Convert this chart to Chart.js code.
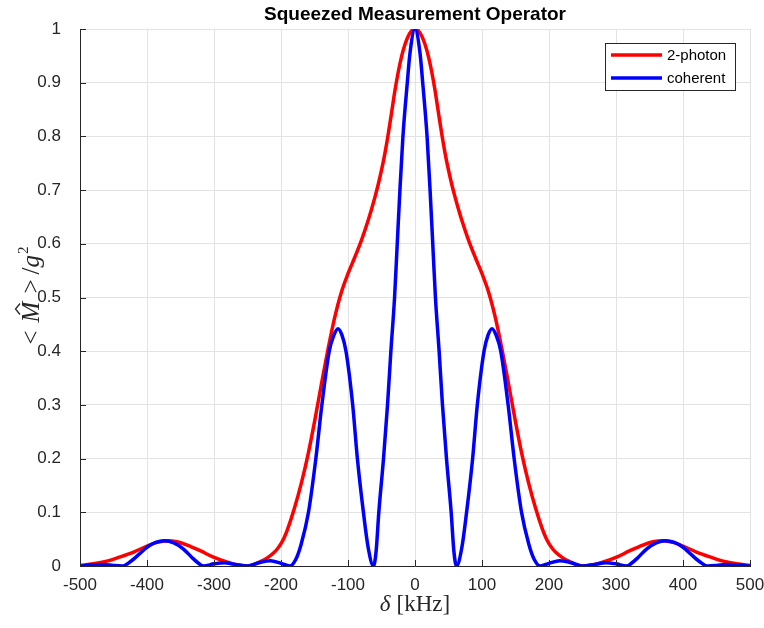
<!DOCTYPE html>
<html>
<head>
<meta charset="utf-8">
<title>Squeezed Measurement Operator</title>
<script src="https://cdn.jsdelivr.net/npm/chart.js@4.4.1/dist/chart.umd.min.js"></script>
<style>
  html, body { margin: 0; padding: 0; background: #fff; }
  #wrap { width: 764px; height: 628px; }
</style>
</head>
<body>
<div id="wrap"><canvas id="operatorChart" width="764" height="628"></canvas></div>
<script>
// Detuning axis ticks (kHz) and normalised operator ticks
const deltaTicks = [-500, -400, -300, -200, -100, 0, 100, 200, 300, 400, 500];
const deltaTickLabels = ["-500", "-400", "-300", "-200", "-100", "0", "100", "200", "300", "400", "500"];
const valueTicks = [0, 0.1, 0.2, 0.3, 0.4, 0.5, 0.6, 0.7, 0.8, 0.9, 1];
const valueTickLabels = ["0", "0.1", "0.2", "0.3", "0.4", "0.5", "0.6", "0.7", "0.8", "0.9", "1"];

// 2-photon response
const twoPhotonDelta = [
  -500, -480, -460, -440, -420, -400, -385, -370, -355, -340, -320, -300, -280, -265, -250,
  -240, -230, -220, -210, -205, -200, -195, -190, -180, -170, -160, -150, -140, -130, -120,
  -110, -100, -90, -80, -70, -65, -60, -55, -50, -45, -40, -35, -30, -25, -20, -15, -10, -5, 0,
  5, 10, 15, 20, 25, 30, 35, 40, 45, 50, 55, 60, 65, 70, 80, 90, 100, 110,
  120, 130, 140, 150, 160, 170, 180, 190, 195, 200, 205, 210, 220, 230, 240,
  250, 265, 280, 300, 320, 340, 355, 370, 385, 400, 420, 440, 460, 480, 500
];
const twoPhotonValues = [
  0.001, 0.004, 0.009, 0.017, 0.026, 0.037, 0.044, 0.047, 0.045, 0.039, 0.028, 0.016, 0.007, 0.002, 0,
  0.003, 0.0085, 0.0155, 0.0255, 0.0325, 0.0415, 0.0535, 0.069, 0.1075, 0.1525, 0.2055, 0.2685, 0.3365, 0.4025, 0.462,
  0.5095, 0.5445, 0.5745, 0.6065, 0.6435, 0.664, 0.686, 0.710, 0.737, 0.768, 0.804, 0.844, 0.885, 0.92, 0.949, 0.971, 0.987, 0.997, 1.0,
  0.997, 0.987, 0.971, 0.949, 0.92, 0.885, 0.844, 0.804, 0.768, 0.737, 0.710, 0.686, 0.664, 0.6435, 0.6065, 0.5745, 0.5445, 0.5095,
  0.462, 0.4025, 0.3365, 0.2685, 0.2055, 0.1525, 0.1075, 0.069, 0.0535, 0.0415, 0.0325, 0.0255, 0.0155, 0.0085, 0.003,
  0, 0.002, 0.007, 0.016, 0.028, 0.039, 0.045, 0.047, 0.044, 0.037, 0.026, 0.017, 0.009, 0.004, 0.001
];

// coherent response
const coherentDelta = [
  -500, -485, -465, -450, -437, -425, -410, -400, -387, -374, -360, -346, -333, -325, -316,
  -300, -285, -268, -250, -233, -216, -200, -187, -178, -170, -159, -148, -139, -128, -121,
  -115, -109, -103, -93, -86, -77, -70, -62, -58, -54, -47, -41, -36, -30.5, -26.5, -22.5,
  -18, -11.5, -7.5, 0,
  7.5, 11.5, 18, 22.5, 26.5, 30.5, 36, 41, 47, 54, 58, 62, 70, 77, 86, 93, 103, 109, 115,
  121, 128, 139, 148, 159, 170, 178, 187, 200, 216, 233, 250, 268, 285, 300,
  316, 325, 333, 346, 360, 374, 387, 400, 410, 425, 437, 450, 465, 485, 500
];
const coherentValues = [
  0, 0.002, 0.003, 0.001, 0, 0.008, 0.024, 0.035, 0.044, 0.047, 0.043, 0.032, 0.016, 0.007, 0,
  0.004, 0.006, 0.003, 0, 0.006, 0.01, 0.005, 0, 0.012, 0.04, 0.10, 0.20, 0.30, 0.40, 0.43,
  0.442, 0.43, 0.40, 0.30, 0.20, 0.10, 0.035, 0, 0.028, 0.10, 0.20, 0.30, 0.40, 0.50, 0.60, 0.70,
  0.80, 0.90, 0.955, 1.0,
  0.955, 0.90, 0.80, 0.70, 0.60, 0.50, 0.40, 0.30, 0.20, 0.10, 0.028, 0, 0.035, 0.10, 0.20, 0.30, 0.40, 0.43, 0.442,
  0.43, 0.40, 0.30, 0.20, 0.10, 0.04, 0.012, 0, 0.005, 0.01, 0.006, 0, 0.003, 0.006, 0.004,
  0, 0.007, 0.016, 0.032, 0.043, 0.047, 0.044, 0.035, 0.024, 0.008, 0, 0.001, 0.003, 0.002, 0
];

const AXIS_COLOR = "#262626";
const GRID_COLOR = "#e3e3e3";
const SANS = "'Liberation Sans', Arial, Helvetica, sans-serif";
const SERIF = "'Liberation Serif', 'Times New Roman', serif";

const toPoints = (xs, ys) => xs.map((x, i) => ({ x: x, y: ys[i] }));

// draw a run of text pieces with mixed fonts, starting at x along baseline y
function drawPieces(ctx, pieces, x, y) {
  pieces.forEach(p => {
    ctx.font = p.font;
    if (p.pre) x += p.pre;
    ctx.fillText(p.text, x, y + (p.dy || 0));
    const w = ctx.measureText(p.text).width;
    if (p.hat) {
      // circumflex over the italic M
      const cx = x + w / 2 + 3;
      ctx.save();
      ctx.lineWidth = 1.3;
      ctx.beginPath();
      ctx.moveTo(cx - 5.5, y - 19);
      ctx.lineTo(cx, y - 23.5);
      ctx.lineTo(cx + 5.5, y - 19);
      ctx.stroke();
      ctx.restore();
    }
    x += w + (p.post || 0);
  });
  return x;
}

function piecesWidth(ctx, pieces) {
  let w = 0;
  pieces.forEach(p => {
    ctx.font = p.font;
    w += (p.pre || 0) + ctx.measureText(p.text).width + (p.post || 0);
  });
  return w;
}

// title, axis labels, inward ticks and the boxed legend
const axisDecor = {
  id: "axisDecor",
  afterDraw(chart) {
    const { ctx, chartArea: a, scales } = chart;
    ctx.save();

    // inward tick marks on the left and bottom axes
    ctx.strokeStyle = AXIS_COLOR;
    ctx.lineWidth = 1;
    ctx.beginPath();
    deltaTicks.forEach(v => {
      const x = Math.round(scales.x.getPixelForValue(v)) + 0.5;
      ctx.moveTo(x, a.bottom);
      ctx.lineTo(x, a.bottom - 6);
    });
    valueTicks.forEach(v => {
      const y = Math.round(scales.y.getPixelForValue(v)) + 0.5;
      ctx.moveTo(a.left, y);
      ctx.lineTo(a.left + 6, y);
    });
    ctx.stroke();

    // title
    ctx.fillStyle = "#000";
    ctx.font = "bold 19px " + SANS;
    ctx.textAlign = "center";
    ctx.textBaseline = "alphabetic";
    ctx.fillText("Squeezed Measurement Operator", (a.left + a.right) / 2, 20);

    // x axis label: δ [kHz]
    ctx.textAlign = "left";
    ctx.fillStyle = AXIS_COLOR;
    ctx.strokeStyle = AXIS_COLOR;
    const xLabel = [
      { text: "\u03B4", font: "italic 23px " + SERIF, post: 6 },
      { text: "[kHz]", font: "23px " + SERIF }
    ];
    const xw = piecesWidth(ctx, xLabel);
    drawPieces(ctx, xLabel, (a.left + a.right) / 2 - xw / 2, 611);

    // y axis label: <M̂>/g², rotated
    const yLabel = [
      { text: "<", font: "25px " + SERIF, post: 8 },
      { text: "M", font: "italic 25px " + SERIF, hat: true, post: 8 },
      { text: ">", font: "25px " + SERIF, post: 5 },
      { text: "/", font: "25px " + SERIF },
      { text: "g", font: "italic 25px " + SERIF, post: 1 },
      { text: "2", font: "15px " + SERIF, dy: -11 }
    ];
    const yw = piecesWidth(ctx, yLabel);
    ctx.save();
    ctx.translate(39, (a.top + a.bottom) / 2 - 2);
    ctx.rotate(-Math.PI / 2);
    drawPieces(ctx, yLabel, -yw / 2, 0);
    ctx.restore();

    // legend box in the upper right corner
    const lx = 605.5, ly = 43.5, lw = 130, lh = 47;
    ctx.fillStyle = "#fff";
    ctx.fillRect(lx, ly, lw, lh);
    ctx.strokeStyle = AXIS_COLOR;
    ctx.lineWidth = 1;
    ctx.strokeRect(lx, ly, lw, lh);
    ctx.font = "15px " + SANS;
    ctx.textBaseline = "middle";
    chart.data.datasets.forEach((ds, i) => {
      const y = 55 + i * 23;
      ctx.strokeStyle = ds.borderColor;
      ctx.lineWidth = 3.5;
      ctx.beginPath();
      ctx.moveTo(611, y);
      ctx.lineTo(662, y);
      ctx.stroke();
      ctx.fillStyle = "#000";
      ctx.fillText(ds.label, 667, y + 1);
    });

    ctx.restore();
  }
};

new Chart(document.getElementById("operatorChart"), {
  type: "line",
  data: {
    datasets: [
      {
        label: "2-photon",
        data: toPoints(twoPhotonDelta, twoPhotonValues),
        borderColor: "#ff0000",
        borderWidth: 3.5,
        pointRadius: 0,
        cubicInterpolationMode: "monotone",
        order: 1
      },
      {
        label: "coherent",
        data: toPoints(coherentDelta, coherentValues),
        borderColor: "#0000ff",
        borderWidth: 3.5,
        pointRadius: 0,
        cubicInterpolationMode: "monotone",
        order: 0
      }
    ]
  },
  options: {
    responsive: false,
    animation: false,
    devicePixelRatio: 1,
    layout: { padding: { top: 29, right: 14, left: 0, bottom: 0 } },
    plugins: {
      legend: { display: false },
      title: { display: false },
      tooltip: { enabled: false }
    },
    scales: {
      x: {
        type: "linear",
        min: -500,
        max: 500,
        afterBuildTicks: s => { s.ticks = deltaTicks.map(v => ({ value: v })); },
        afterFit: s => { s.height = 62; s.paddingLeft = 0; s.paddingRight = 0; },
        ticks: {
          color: AXIS_COLOR,
          font: { family: SANS, size: 17 },
          padding: 9,
          maxRotation: 0,
          callback: (v, i) => deltaTickLabels[i]
        },
        grid: { color: GRID_COLOR, drawTicks: false },
        border: { color: AXIS_COLOR, width: 1 }
      },
      y: {
        type: "linear",
        min: 0,
        max: 1,
        afterBuildTicks: s => { s.ticks = valueTicks.map(v => ({ value: v })); },
        afterFit: s => { s.width = 80; s.paddingTop = 0; s.paddingBottom = 0; },
        ticks: {
          color: AXIS_COLOR,
          font: { family: SANS, size: 17 },
          padding: 19,
          callback: (v, i) => valueTickLabels[i]
        },
        grid: { color: GRID_COLOR, drawTicks: false },
        border: { color: AXIS_COLOR, width: 1 }
      }
    }
  },
  plugins: [axisDecor]
});
</script>
</body>
</html>
